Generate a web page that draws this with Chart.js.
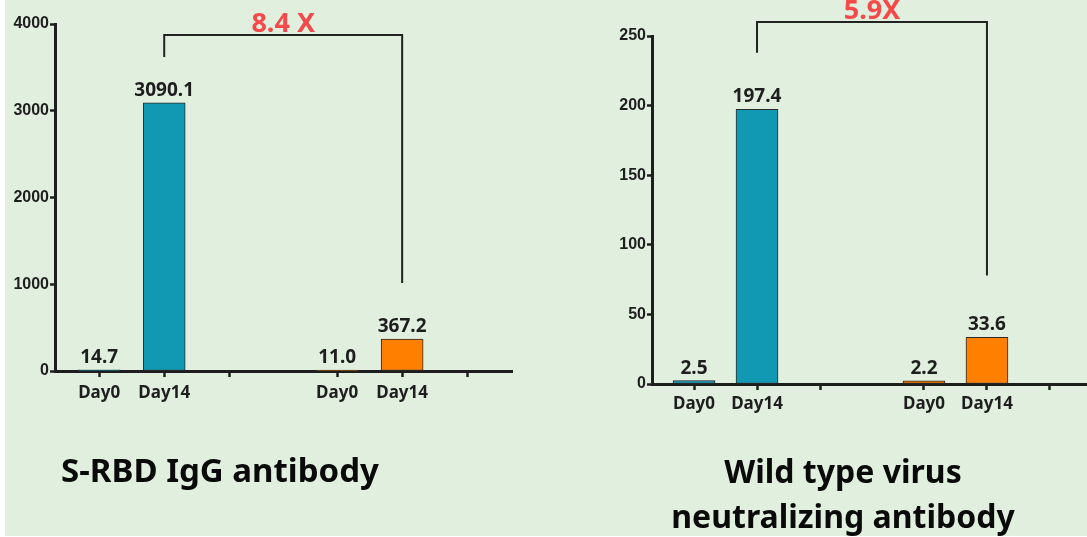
<!DOCTYPE html>
<html>
<head>
<meta charset="utf-8">
<script src="https://cdn.jsdelivr.net/npm/chart.js@4.4.1/dist/chart.umd.min.js"></script>
<style>
  html, body { margin: 0; padding: 0; width: 1087px; height: 537px; overflow: hidden; background: #ffffff; }
  #bg { position: absolute; left: 5px; top: 0; width: 1082px; height: 536px; background: #e1efdf; }
  canvas.panel { position: absolute; top: 0; }
  #c1 { left: 0; width: 540px; height: 537px; }
  #c2 { left: 540px; width: 560px; height: 537px; }
  .title { position: absolute; font-family: "Noto Sans", sans-serif; font-weight: 700;
           color: #0a0a0a; text-align: center; line-height: 45px; white-space: nowrap; }
  #t1 { left: 0; width: 440px; top: 447px; font-size: 33px; }
  #t2 { left: 593px; width: 500px; top: 448px; font-size: 32px; }
</style>
</head>
<body>
<div id="bg"></div>
<canvas id="c1" class="panel" width="540" height="537"></canvas>
<canvas id="c2" class="panel" width="560" height="537"></canvas>
<div class="title" id="t1">S-RBD IgG antibody</div>
<div class="title" id="t2">Wild type virus<br>neutralizing antibody</div>

<script>
// Sampling days shown under each group of bars
const categories = ['Day0', 'Day14'];

// S-RBD IgG antibody titres
const iggGroupA = [14.7, 3090.1];
const iggGroupB = [11.0, 367.2];
const iggTicks = [0, 1000, 2000, 3000, 4000];
const iggFold = '8.4 X';

// Wild type virus neutralizing antibody titres
const nabGroupA = [2.5, 197.4];
const nabGroupB = [2.2, 33.6];
const nabTicks = [0, 50, 100, 150, 200, 250];
const nabFold = '5.9X';

const INK = '#1e1e1e';
const GROUP_COLORS = ['#1199b4', '#ff8000'];

// Value labels above the bars and the fold-change bracket
const annotate = {
  id: 'annotate',
  afterDatasetsDraw(chart, args, opts) {
    const { ctx, scales: { x, y } } = chart;
    ctx.save();
    ctx.fillStyle = INK;
    ctx.font = 'bold 19px "Noto Sans"';
    ctx.textAlign = 'center';
    ctx.textBaseline = 'alphabetic';
    chart.data.datasets.forEach((ds, di) => {
      chart.getDatasetMeta(di).data.forEach((bar, i) => {
        ctx.fillText(ds.data[i].y.toFixed(1), bar.x, bar.y - 7);
      });
    });

    const b = opts.bracket;
    const xl = x.getPixelForValue(b.from);
    const xr = x.getPixelForValue(b.to);
    const yt = y.getPixelForValue(b.top);
    ctx.strokeStyle = '#222';
    ctx.lineWidth = 2;
    ctx.beginPath();
    ctx.moveTo(xl, y.getPixelForValue(b.leftEnd));
    ctx.lineTo(xl, yt);
    ctx.lineTo(xr, yt);
    ctx.lineTo(xr, y.getPixelForValue(b.rightEnd));
    ctx.stroke();

    ctx.fillStyle = '#f44a4a';
    ctx.font = 'bold 27px "Noto Sans"';
    ctx.fillText(b.text, (xl + xr) / 2, yt - 3);
    ctx.restore();
  }
};

function buildChart(id, cfg) {
  const tickVals = [];
  const tickLabels = [];
  cfg.groups.forEach((vals, g) => {
    categories.forEach((c, i) => { tickVals.push(g * cfg.groupSpan + i); tickLabels.push(c); });
    tickVals.push(g * cfg.groupSpan + categories.length);
    tickLabels.push('');
  });

  const datasets = cfg.groups.map((vals, g) => ({
    data: vals.map((v, i) => ({ x: g * cfg.groupSpan + i, y: v })),
    backgroundColor: GROUP_COLORS[g],
    borderColor: '#2a2a2a',
    borderWidth: 1,
    borderSkipped: false,
    barThickness: 42,
    grouped: false
  }));

  return new Chart(document.getElementById(id), {
    type: 'bar',
    data: { datasets },
    plugins: [annotate],
    options: {
      responsive: false,
      animation: false,
      devicePixelRatio: 1,
      layout: { padding: { left: 0, top: cfg.area.top, right: cfg.width - cfg.area.right, bottom: 0 } },
      plugins: {
        legend: { display: false },
        tooltip: { enabled: false },
        annotate: { bracket: cfg.bracket }
      },
      scales: {
        x: {
          type: 'linear',
          offset: false,
          min: cfg.xMin,
          max: cfg.xMax,
          afterBuildTicks: s => { s.ticks = tickVals.map(v => ({ value: v })); },
          afterFit: s => { s.height = cfg.height - cfg.area.bottom; },
          ticks: {
            autoSkip: false, maxRotation: 0, color: INK, padding: cfg.labelGap,
            font: { family: 'Noto Sans', weight: 'bold', size: 17 },
            callback: (v, i) => tickLabels[i]
          },
          grid: { offset: false, drawOnChartArea: false, drawTicks: true, tickLength: 6, tickWidth: 2.5, tickColor: INK },
          border: { display: true, width: 3, color: INK }
        },
        y: {
          min: 0,
          max: cfg.ticks[cfg.ticks.length - 1],
          afterBuildTicks: s => { s.ticks = cfg.ticks.map(v => ({ value: v })); },
          afterFit: s => { s.width = cfg.area.left; },
          ticks: {
            color: INK, padding: 1,
            font: { family: 'Liberation Sans', weight: 'bold', size: 16 },
            callback: v => String(v)
          },
          grid: { drawOnChartArea: false, drawTicks: true, tickLength: 5, tickWidth: 2.5, tickColor: INK },
          border: { display: true, width: 3, color: INK }
        }
      }
    }
  });
}

buildChart('c1', {
  width: 540, height: 537,
  area: { left: 55, right: 512, top: 24, bottom: 371 },
  xMin: -0.68, xMax: 6.35, groupSpan: 3.66, labelGap: 6,
  groups: [iggGroupA, iggGroupB],
  ticks: iggTicks,
  bracket: { from: 1, to: 3.66 + 1, top: 3873, leftEnd: 3620, rightEnd: 1014, text: iggFold }
});

buildChart('c2', {
  width: 560, height: 537,
  area: { left: 112, right: 555, top: 36, bottom: 384 },
  xMin: -0.667, xMax: 6.365, groupSpan: 3.65, labelGap: 4,
  groups: [nabGroupA, nabGroupB],
  ticks: nabTicks,
  bracket: { from: 1, to: 3.65 + 1, top: 260, leftEnd: 238, rightEnd: 78, text: nabFold }
});
</script>
</body>
</html>
